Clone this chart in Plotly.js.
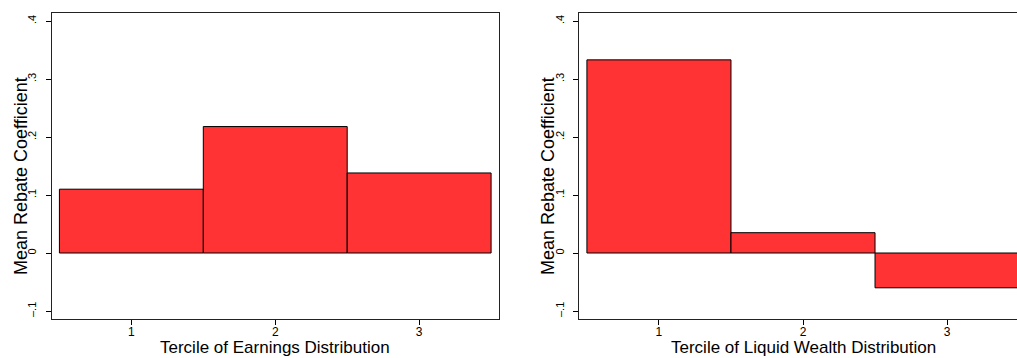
<!DOCTYPE html>
<html>
<head>
<meta charset="utf-8">
<script src="https://cdn.plot.ly/plotly-3.0.1.min.js"></script>
<style>
html,body{margin:0;padding:0;overflow:hidden;background:#fff;width:1017px;height:358px;}
#chart{width:1030px;height:358px;}
</style>
</head>
<body>
<div id="chart"></div>
<script>
const terciles = [1, 2, 3];
const tercileLabels = ["1", "2", "3"];
const earningsCoef = [0.110, 0.218, 0.138];
const wealthCoef = [0.333, 0.035, -0.060];
const yTickVals = [-0.1, 0, 0.1, 0.2, 0.3, 0.4];
const yTickText = ["\u2013.1", "0", ".1", ".2", ".3", ".4"];
const yTitle = "Mean Rebate Coefficient";
const xTitleLeft = "Tercile of Earnings Distribution";
const xTitleRight = "Tercile of Liquid Wealth Distribution";

const W = 1030, H = 358;
const fontFam = "Liberation Sans, Arial, sans-serif";
const barStyle = {color: "#FF3333", line: {color: "#000", width: 1}};

const traces = [
  {type: "bar", x: terciles, y: earningsCoef, width: 1, marker: barStyle, xaxis: "x", yaxis: "y", hoverinfo: "none"},
  {type: "bar", x: terciles, y: wealthCoef, width: 1, marker: barStyle, xaxis: "x2", yaxis: "y2", hoverinfo: "none"}
];

function xax(domain, anchor) {
  return {
    domain: domain, range: [0.445, 3.555], anchor: anchor, tickmode: "array", tickvals: terciles, ticktext: tercileLabels,
    ticks: "outside", ticklen: 5, tickwidth: 1, tickcolor: "#000",
    showline: true, linecolor: "#222", linewidth: 1, mirror: true, showgrid: false, zeroline: false,
    tickfont: {family: fontFam, size: 12, color: "#000"}, ticklabelstandoff: -3,
    automargin: false, fixedrange: true
  };
}
function yax(anchor) {
  return {
    domain: [(H - 319) / H, (H - 13) / H], range: [-0.1138, 0.4138], anchor: anchor,
    tickmode: "array", tickvals: yTickVals, ticktext: yTickText, tickangle: -90,
    ticks: "outside", ticklen: 5, tickwidth: 1, tickcolor: "#000",
    showline: true, linecolor: "#222", linewidth: 1, mirror: true, showgrid: false, zeroline: false,
    tickfont: {family: fontFam, size: 11, color: "#000"}, ticklabelstandoff: 5,
    automargin: false, fixedrange: true
  };
}

const titleFont = {family: fontFam, size: 18, color: "#000"};
const xTitleFont = {family: fontFam, size: 17, color: "#000"};
const annotations = [
  {text: xTitleLeft, xref: "paper", yref: "paper", x: 275 / W, y: (H - 347.5) / H, xanchor: "center", yanchor: "middle", showarrow: false, font: xTitleFont, borderpad: 0},
  {text: xTitleRight, xref: "paper", yref: "paper", x: 803 / W, y: (H - 347.5) / H, xanchor: "center", yanchor: "middle", showarrow: false, font: xTitleFont, borderpad: 0},
  {text: yTitle, xref: "paper", yref: "paper", x: 21 / W, y: (H - 176) / H, xanchor: "center", yanchor: "middle", textangle: -90, showarrow: false, font: titleFont, borderpad: 0},
  {text: yTitle, xref: "paper", yref: "paper", x: 548 / W, y: (H - 176) / H, xanchor: "center", yanchor: "middle", textangle: -90, showarrow: false, font: titleFont, borderpad: 0}
];

const layout = {
  width: W, height: H,
  margin: {l: 0, r: 0, t: 0, b: 0},
  paper_bgcolor: "#fff", plot_bgcolor: "#fff",
  showlegend: false, bargap: 0,
  xaxis: xax([51.5 / W, 499 / W], "y"),
  yaxis: yax("x"),
  xaxis2: xax([579 / W, 1027 / W], "y2"),
  yaxis2: yax("x2"),
  annotations: annotations
};

Plotly.newPlot("chart", traces, layout, {displayModeBar: false, staticPlot: true});
</script>
</body>
</html>
